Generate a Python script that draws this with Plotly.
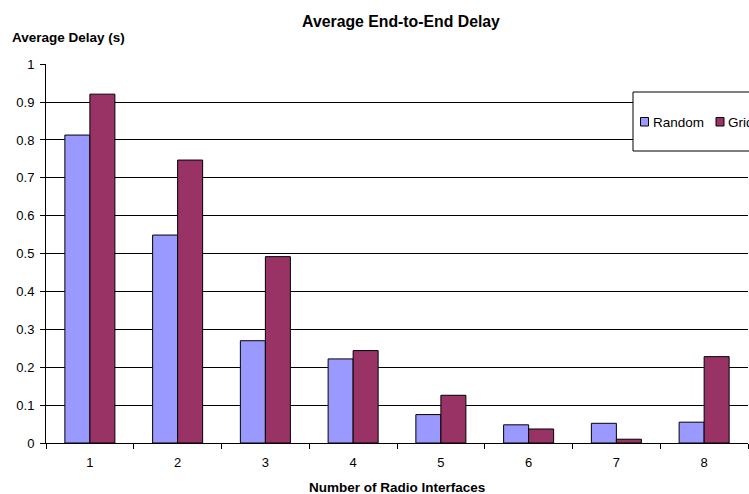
import plotly.graph_objects as go

# Number of radio interfaces per node
interfaces = ["1", "2", "3", "4", "5", "6", "7", "8"]
# Average end-to-end delay (seconds) for each topology
delay_random = [0.813, 0.549, 0.270, 0.222, 0.075, 0.048, 0.052, 0.055]
delay_grid = [0.921, 0.747, 0.492, 0.244, 0.126, 0.037, 0.010, 0.228]
y_ticks = [0, 0.1, 0.2, 0.3, 0.4, 0.5, 0.6, 0.7, 0.8, 0.9, 1]

series_names = ["Random", "Grid"]
series_colors = ["#9999FF", "#993366"]

FONT = "Liberation Sans, Arial, sans-serif"

# plot area in pixels
L, R, T, B = 46, 748, 64, 443
W, H = R - L, B - T


def px_x(x):
    return (x - L) / W


def px_y(y):
    return (B - y) / H


fig = go.Figure()
for name, vals, col in zip(series_names, [delay_random, delay_grid], series_colors):
    fig.add_trace(go.Bar(
        x=interfaces, y=vals, name=name, showlegend=False,
        marker=dict(color=col, line=dict(color="#000000", width=1)),
    ))

fig.update_layout(
    width=749, height=494,
    margin=dict(l=L, r=749 - R, t=T, b=494 - B),
    paper_bgcolor="white", plot_bgcolor="white",
    font=dict(family=FONT, size=13, color="#000000"),
    barmode="group", bargap=0.43, bargroupgap=0,
    title=dict(text="<b>Average End-to-End Delay</b>", x=401 / 749, xanchor="center",
               y=1 - 21 / 494, yanchor="middle", font=dict(size=15.8)),
    xaxis=dict(type="category", showline=True, linecolor="#000000", linewidth=1,
               ticks="outside", tickson="boundaries", ticklen=5, tickcolor="#000000",
               ticklabelstandoff=7,
               showgrid=False, tickfont=dict(size=13)),
    yaxis=dict(range=[0, 1.0006], tickvals=y_ticks, ticktext=[f"{v:g}" for v in y_ticks],
               showline=True, linecolor="#000000", linewidth=1,
               ticks="outside", ticklen=5, tickcolor="#000000",
               ticklabelstandoff=3,
               showgrid=True, gridcolor="#000000", gridwidth=1,
               zeroline=False, tickfont=dict(size=13)),
)

# Legend: frame, colour keys and labels (runs past the right edge of the figure)
fig.add_shape(type="rect", xref="paper", yref="paper",
              x0=px_x(633), x1=px_x(800), y0=px_y(151), y1=px_y(92),
              line=dict(color="#000000", width=1), fillcolor="white", layer="above")
key_x = [640.5, 716]
for name, col, kx in zip(series_names, series_colors, key_x):
    fig.add_shape(type="rect", xref="paper", yref="paper",
                  x0=px_x(kx), x1=px_x(kx + 8), y0=px_y(126), y1=px_y(117.5),
                  line=dict(color="#000000", width=1), fillcolor=col, layer="above")
    fig.add_annotation(text=name, xref="paper", yref="paper",
                       x=px_x(kx + 10), y=px_y(122), xanchor="left", yanchor="middle",
                       showarrow=False, font=dict(size=13.5))

# Axis titles
fig.add_annotation(text="<b>Average Delay (s)</b>", xref="paper", yref="paper",
                   x=px_x(9.5), y=px_y(38), xanchor="left", yanchor="middle",
                   showarrow=False, font=dict(size=13.5))
fig.add_annotation(text="<b>Number of Radio Interfaces</b>", xref="paper", yref="paper",
                   x=px_x(397), y=px_y(487), xanchor="center", yanchor="middle",
                   showarrow=False, font=dict(size=13.5))

fig.write_html("out.html")
